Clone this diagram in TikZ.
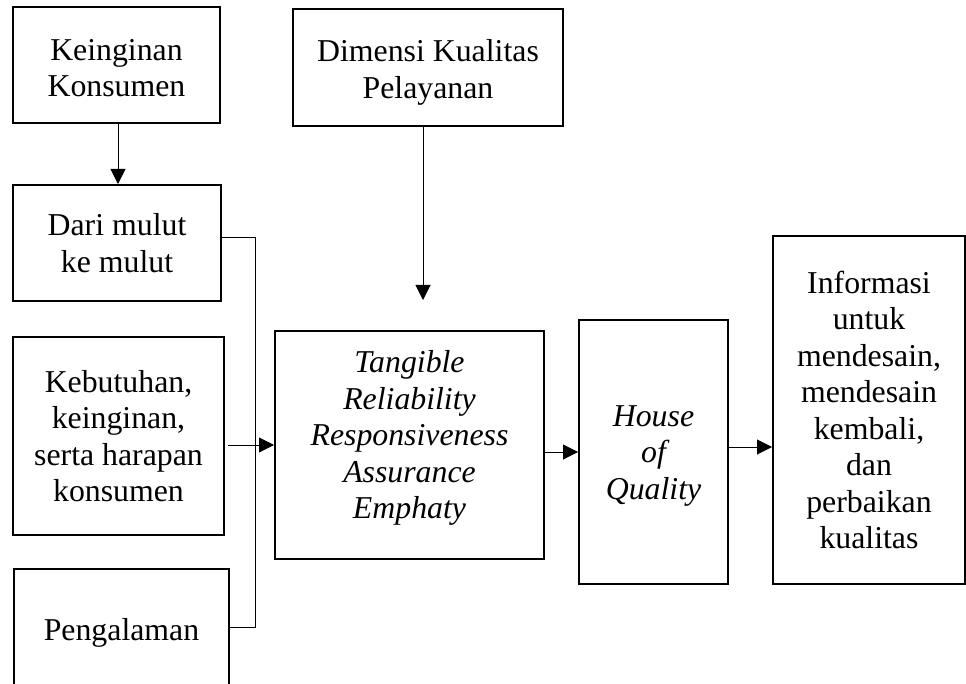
\documentclass[tikz,border=0pt]{standalone}
\usepackage{fontspec}
\setmainfont{Liberation Serif}
\usetikzlibrary{arrows.meta,calc}
\begin{document}
\begin{tikzpicture}[x=1pt,y=-1pt,
  box/.style={draw, line width=2pt, inner sep=0pt},
  tx/.style={align=center, inner sep=0pt, font=\fontsize{31.8}{36.5}\selectfont},
  itx/.style={tx, font=\fontsize{31.8}{36.5}\selectfont\itshape},
  conn/.style={line width=1pt},
  arr/.style={conn, -{Triangle[length=15pt,width=15pt]}}]
\useasboundingbox (0,0) rectangle (966,684);
\node[box, minimum width=207pt, minimum height=116pt] (kk) at (116.5,65) {};
\node[box, minimum width=270pt, minimum height=117pt] (dk) at (428,67.5) {};
\node[box, minimum width=208pt, minimum height=116pt] (dm) at (117,243) {};
\node[box, minimum width=211pt, minimum height=198pt] (kb) at (118.5,436) {};
\node[box, minimum width=215pt, minimum height=117pt] (pg) at (121.5,627.5) {};
\node[box, minimum width=269pt, minimum height=228pt] (mid) at (409.5,445) {};
\node[box, minimum width=149pt, minimum height=264pt] (hoq) at (653.5,452) {};
\node[box, minimum width=192pt, minimum height=348pt] (inf) at (869,410) {};
\node[tx, yshift=-3pt] (kkt) at (kk) {Keinginan\\Konsumen};
\node[tx, yshift=-5pt] (dkt) at (dk) {Dimensi Kualitas\\Pelayanan};
\node[tx] (dmt) at (dm) {Dari mulut\\ke mulut};
\node[tx] (kbt) at (kb) {Kebutuhan,\\keinginan,\\serta harapan\\konsumen};
\node[tx, yshift=-5pt] (pgt) at (pg) {Pengalaman};
\node[itx, yshift=7pt] (midt) at (mid) {Tangible\\Reliability\\Responsiveness\\Assurance\\Emphaty};
\node[itx, yshift=-4pt] (hoqt) at (hoq) {House\\of\\Quality};
\node[tx] (inft) at (inf) {Informasi\\untuk\\mendesain,\\mendesain\\kembali,\\dan\\perbaikan\\kualitas};
\coordinate (dkend) at (423,300);
\coordinate (bus) at (255,0);
\draw[arr] ($(kk.south)+(1.5,0)$) -- ($(dm.north)+(1,0)$);
\draw[arr] (dk.south -| dkend) -- (dkend);
\draw[conn] ($(dm.east)+(0,-5)$) -| (bus |- pg.east) -- (pg.east);
\draw[arr] ($(kb.east |- mid.west)+(3,0)$) -- (mid.west);
\draw[arr] (mid.east |- hoq.west) -- (hoq.west);
\draw[arr] ($(hoq.east)+(0,-5)$) -- ($(hoq.east -| inf.west)+(0,-5)$);
\end{tikzpicture}
\end{document}
